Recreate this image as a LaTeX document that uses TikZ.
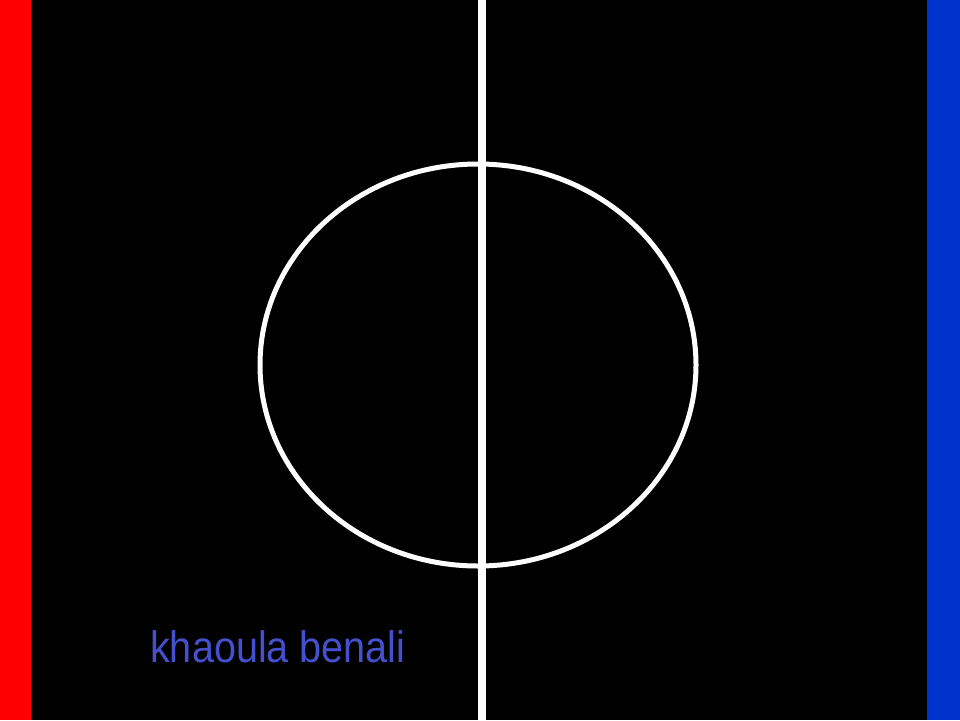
\documentclass[tikz,border=0pt]{standalone}
\usepackage{fontspec}
\setmainfont{Liberation Sans}
\definecolor{sideblue}{RGB}{0,51,204}
\definecolor{txtblue}{RGB}{68,80,204}
\begin{document}
\begin{tikzpicture}[x=1pt,y=-1pt,
  fieldline/.style={draw=white,line width=5pt}]
\useasboundingbox (0,0) rectangle (960,720);
\fill[black] (0,0) rectangle (960,720);
\fill[red] (0,0) rectangle (31,720);
\fill[sideblue] (927,0) rectangle (960,720);
\draw[fieldline] (478,365) ellipse [x radius=218, y radius=201];
\draw[draw=white,line width=8pt] (482,0) -- (482,720);
\node[anchor=base west,inner sep=0pt,text=txtblue,font=\fontsize{44}{50}\selectfont,xscale=0.9] (name) at (150,662) {khaoula benali};
\end{tikzpicture}
\end{document}
